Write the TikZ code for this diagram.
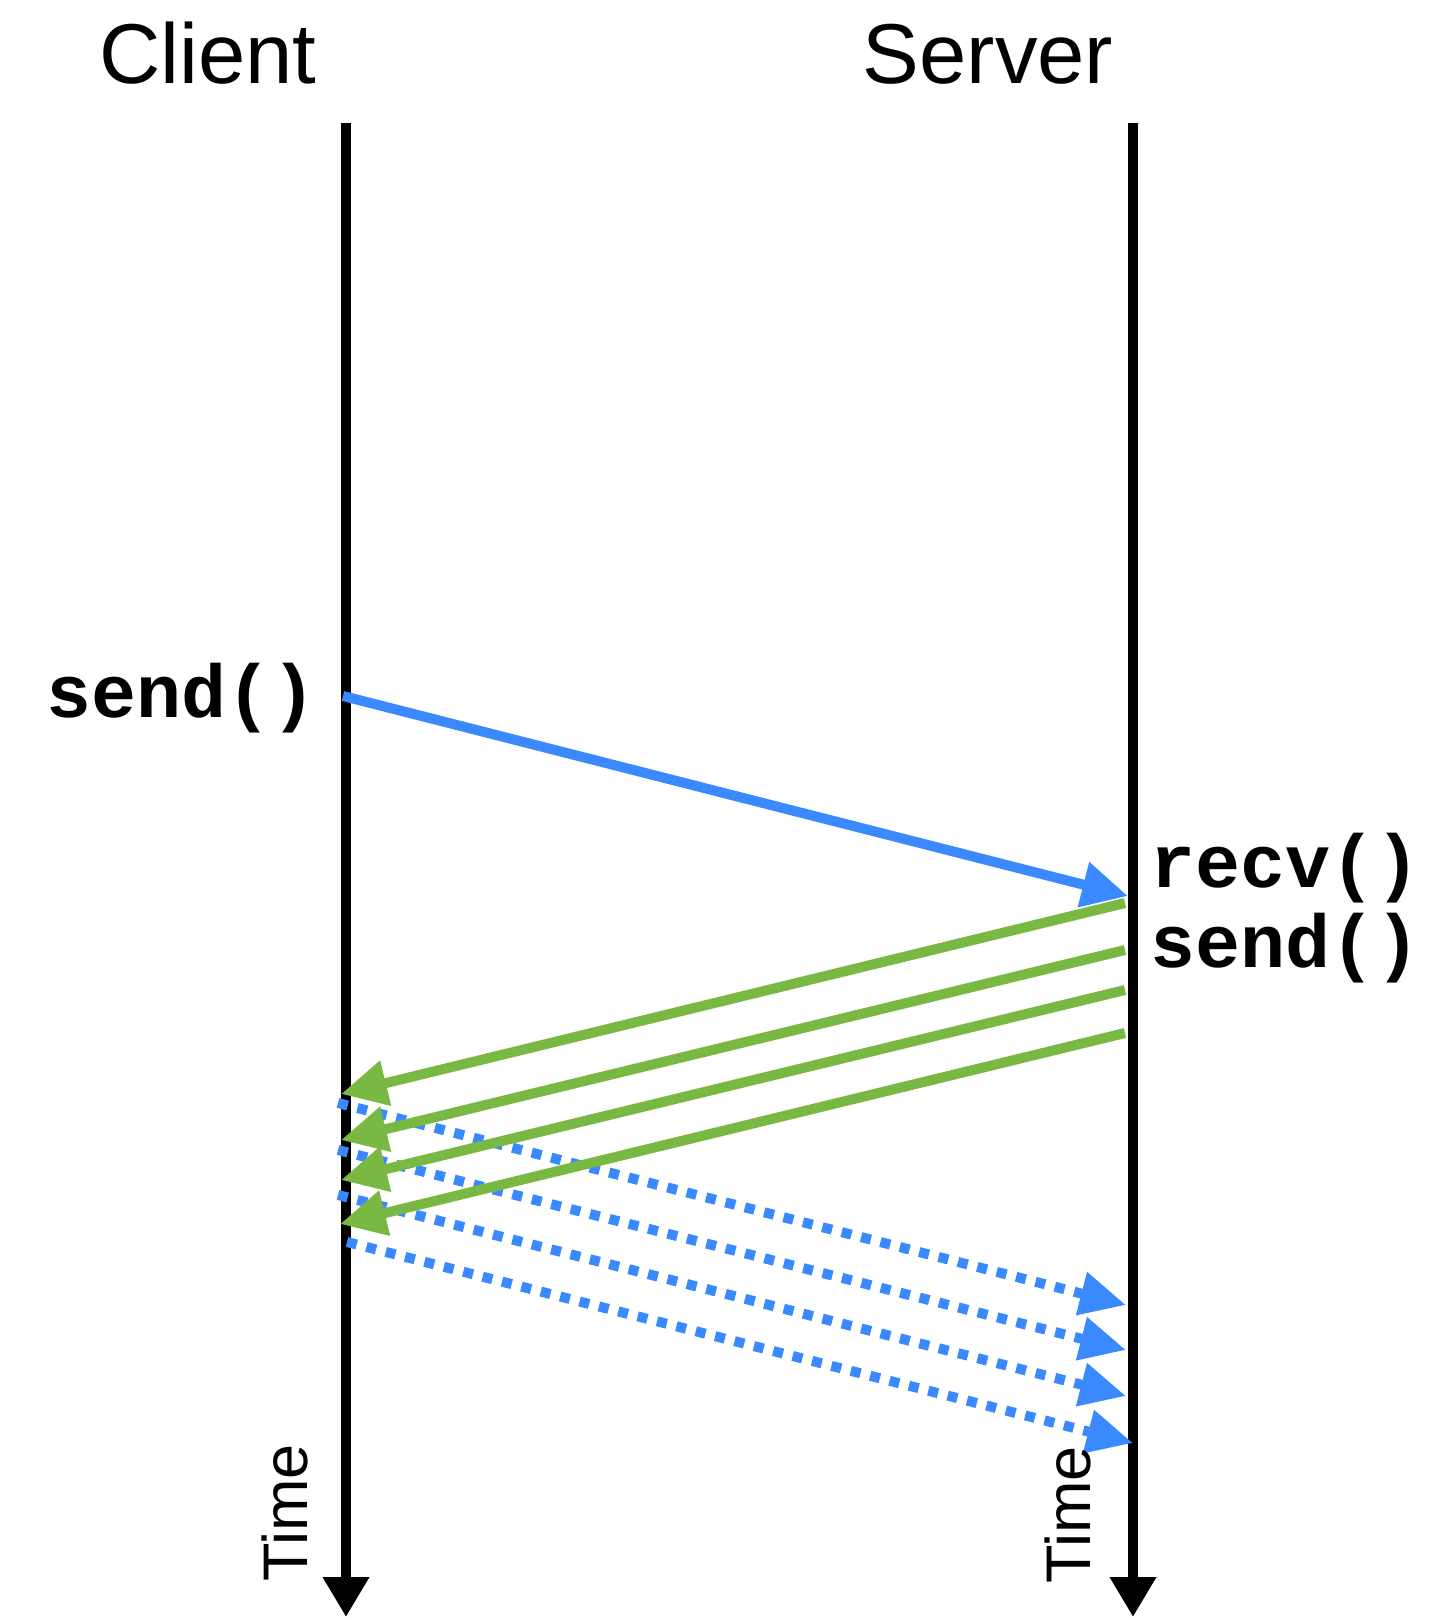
\documentclass[tikz,border=0pt]{standalone}
\usepackage{fontspec}
\setmainfont{Liberation Sans}
\newfontfamily\codefont{Liberation Mono}
\usetikzlibrary{arrows.meta}
\definecolor{msgblue}{HTML}{3A89FE}
\definecolor{msggreen}{HTML}{79B943}
\tikzset{
  lifeline/.style={line width=10pt, -{Triangle[length=40pt,width=44pt]}},
  reqarrow/.style={msgblue, line width=10pt, -{Triangle[length=46pt,width=44pt]}},
  dotarrow/.style={msgblue, line width=10pt, dash pattern=on 10pt off 10pt, -{Triangle[length=46pt,width=42pt]}},
  resparrow/.style={msggreen, line width=10pt, -{Triangle[length=46pt,width=44pt]}},
  title/.style={inner sep=0pt, anchor=base, font=\fontsize{85}{96}\selectfont},
  codelbl/.style={inner sep=0pt, anchor=base west, font=\codefont\bfseries\fontsize{75}{80}\selectfont},
  timelbl/.style={inner sep=0pt, anchor=base west, rotate=90, font=\fontsize{63}{72}\selectfont}
}
\begin{document}
\begin{tikzpicture}[x=1pt,y=-1pt]
\path[use as bounding box] (0,0) rectangle (1456,1617);
% lifelines
\coordinate (ctop) at (346,123);
\coordinate (cbot) at (346,1617);
\coordinate (stop) at (1133,123);
\coordinate (sbot) at (1133,1617);
\draw[lifeline] (ctop) -- (cbot);
\draw[lifeline] (stop) -- (sbot);
% titles
\node[title] (client) at (208,83) {Client};
\node[title] (server) at (988,83) {Server};
% request
\coordinate (rq1) at (343,696);
\coordinate (rq2) at (1128,896);
\draw[reqarrow] (rq1) -- (rq2);
% dotted
\coordinate (d1a) at (338,1103); \coordinate (d1b) at (1126,1305);
\coordinate (d2a) at (338,1150); \coordinate (d2b) at (1126,1350);
\coordinate (d3a) at (338,1195); \coordinate (d3b) at (1126,1396);
\coordinate (d4a) at (347,1242); \coordinate (d4b) at (1133,1443);
\draw[dotarrow] (d1a) -- (d1b);
\draw[dotarrow] (d2a) -- (d2b);
\draw[dotarrow] (d3a) -- (d3b);
\draw[dotarrow] (d4a) -- (d4b);
% responses
\coordinate (g1a) at (1125,903);  \coordinate (g1b) at (341,1094);
\coordinate (g2a) at (1125,950);  \coordinate (g2b) at (341,1140);
\coordinate (g3a) at (1125,990);  \coordinate (g3b) at (341,1180);
\coordinate (g4a) at (1125,1033); \coordinate (g4b) at (340,1224);
\draw[resparrow] (g1a) -- (g1b);
\draw[resparrow] (g2a) -- (g2b);
\draw[resparrow] (g3a) -- (g3b);
\draw[resparrow] (g4a) -- (g4b);
% code labels
\node[codelbl] (csend) at (46,717) {send()};
\node[codelbl] (srecv) at (1150,887) {recv()};
\node[codelbl] (ssend) at (1150,967) {send()};
% time labels
\node[timelbl] (ctime) at (307,1582) {Time};
\node[timelbl] (stime) at (1090,1584) {Time};
\end{tikzpicture}
\end{document}
